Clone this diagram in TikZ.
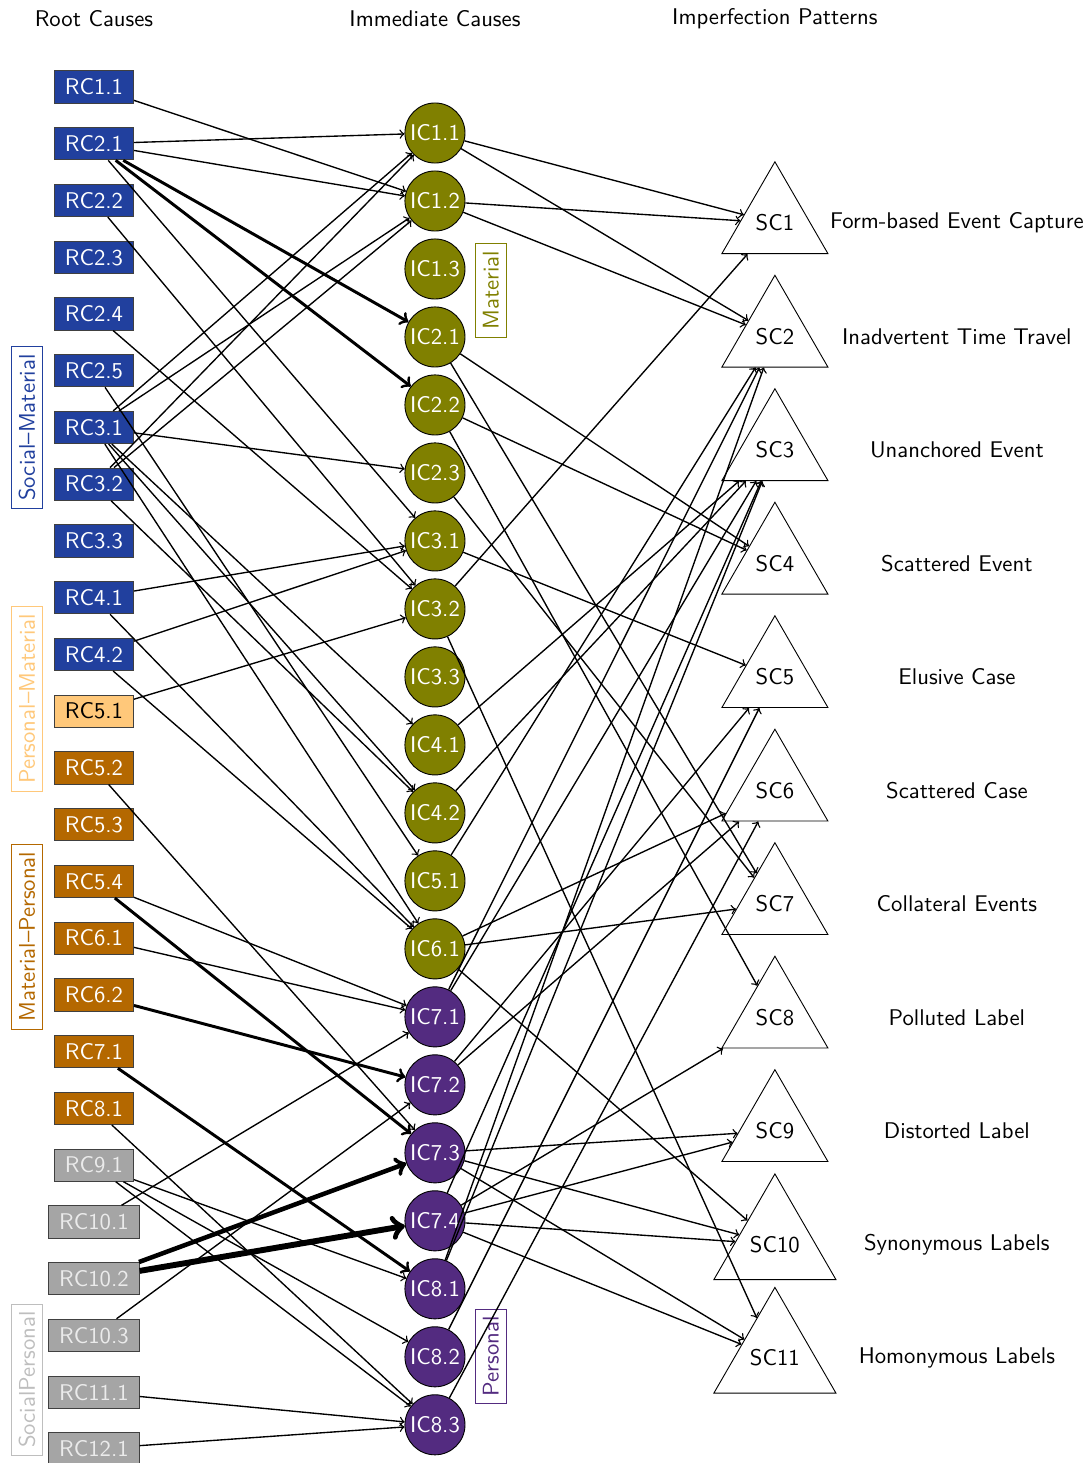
\documentclass[tikz,border=0pt]{standalone}
\usepackage{tikz}
\usetikzlibrary{positioning,shapes.geometric}

\definecolor{socblue}{RGB}{33,64,158}
\definecolor{perslight}{RGB}{255,200,122}
\definecolor{matbrown}{RGB}{180,104,0}
\definecolor{socgrey}{RGB}{165,165,165}
\definecolor{grouplight}{RGB}{190,190,190}
\definecolor{matolive}{RGB}{128,128,0}
\definecolor{perspurple}{RGB}{83,43,128}

\tikzset{
  root/.style={rectangle, draw=black!75, inner xsep=4.6pt, minimum height=0.5cm, text=white},
  rootsm/.style={root, fill=socblue},
  rootpm/.style={root, fill=perslight, text=black},
  rootmp/.style={root, fill=matbrown},
  rootsp/.style={root, fill=socgrey, text=white!92!black},
  immed/.style={circle, draw=black, inner sep=1pt, minimum size=0.93cm, text=white},
  immat/.style={immed, fill=matolive},
  imper/.style={immed, fill=perspurple},
  patnode/.style={regular polygon, regular polygon sides=3, draw, inner sep=0pt, minimum size=1.895cm},
  grouplbl/.style={draw, rotate=90},
  link/.style={->, semithick},
}

\begin{document}
\begin{tikzpicture}[font=\sffamily, node distance=0.8785cm, on grid]

  \useasboundingbox (0,0) rectangle (16.84,-22.65);

  % Root causes
  \node[rootsm]                  (rc11) at (1.455,-1.347) {RC1.1};
  \node[rootsm, below=of rc11]   (rc21)  {RC2.1};
  \node[rootsm, below=of rc21]   (rc22)  {RC2.2};
  \node[rootsm, below=of rc22]   (rc23)  {RC2.3};
  \node[rootsm, below=of rc23]   (rc24)  {RC2.4};
  \node[rootsm, below=of rc24]   (rc25)  {RC2.5};
  \node[rootsm, below=of rc25]   (rc31)  {RC3.1};
  \node[rootsm, below=of rc31]   (rc32)  {RC3.2};
  \node[rootsm, below=of rc32]   (rc33)  {RC3.3};
  \node[rootsm, below=of rc33]   (rc41)  {RC4.1};
  \node[rootsm, below=of rc41]   (rc42)  {RC4.2};
  \node[rootpm, below=of rc42]   (rc51)  {RC5.1};
  \node[rootmp, below=of rc51]   (rc52)  {RC5.2};
  \node[rootmp, below=of rc52]   (rc53)  {RC5.3};
  \node[rootmp, below=of rc53]   (rc54)  {RC5.4};
  \node[rootmp, below=of rc54]   (rc61)  {RC6.1};
  \node[rootmp, below=of rc61]   (rc62)  {RC6.2};
  \node[rootmp, below=of rc62]   (rc71)  {RC7.1};
  \node[rootmp, below=of rc71]   (rc81)  {RC8.1};
  \node[rootsp, below=of rc81]   (rc91)  {RC9.1};
  \node[rootsp, below=of rc91]   (rc101) {RC10.1};
  \node[rootsp, below=of rc101]  (rc102) {RC10.2};
  \node[rootsp, below=of rc102]  (rc103) {RC10.3};
  \node[rootsp, below=of rc103]  (rc111) {RC11.1};
  \node[rootsp, below=of rc111]  (rc121) {RC12.1};

  % Immediate causes
  \node[immat, below right=0.712cm and 5.279cm of rc11] (ic11) {IC1.1};
  \node[immat, below=1.0526cm of ic11] (ic12) {IC1.2};
  \node[immat, below=1.0526cm of ic12] (ic13) {IC1.3};
  \node[immat, below=1.0526cm of ic13] (ic21) {IC2.1};
  \node[immat, below=1.0526cm of ic21] (ic22) {IC2.2};
  \node[immat, below=1.0526cm of ic22] (ic23) {IC2.3};
  \node[immat, below=1.0526cm of ic23] (ic31) {IC3.1};
  \node[immat, below=1.0526cm of ic31] (ic32) {IC3.2};
  \node[immat, below=1.0526cm of ic32] (ic33) {IC3.3};
  \node[immat, below=1.0526cm of ic33] (ic41) {IC4.1};
  \node[immat, below=1.0526cm of ic41] (ic42) {IC4.2};
  \node[immat, below=1.0526cm of ic42] (ic51) {IC5.1};
  \node[immat, below=1.0526cm of ic51] (ic61) {IC6.1};
  \node[imper, below=1.0526cm of ic61] (ic71) {IC7.1};
  \node[imper, below=1.0526cm of ic71] (ic72) {IC7.2};
  \node[imper, below=1.0526cm of ic72] (ic73) {IC7.3};
  \node[imper, below=1.0526cm of ic73] (ic74) {IC7.4};
  \node[imper, below=1.0526cm of ic74] (ic81) {IC8.1};
  \node[imper, below=1.0526cm of ic81] (ic82) {IC8.2};
  \node[imper, below=1.0526cm of ic82] (ic83) {IC8.3};

  % Imperfection patterns
  \node[patnode, below right=1.393cm and 5.263cm of ic11] (sc1) {SC1};
  \node[patnode, below=1.757cm of sc1]  (sc2)  {SC2};
  \node[patnode, below=1.757cm of sc2]  (sc3)  {SC3};
  \node[patnode, below=1.757cm of sc3]  (sc4)  {SC4};
  \node[patnode, below=1.757cm of sc4]  (sc5)  {SC5};
  \node[patnode, below=1.757cm of sc5]  (sc6)  {SC6};
  \node[patnode, below=1.757cm of sc6]  (sc7)  {SC7};
  \node[patnode, below=1.757cm of sc7]  (sc8)  {SC8};
  \node[patnode, below=1.757cm of sc8]  (sc9)  {SC9};
  \node[patnode, below=1.757cm of sc9]  (sc10) {SC10};
  \node[patnode, below=1.757cm of sc10] (sc11) {SC11};

  \node[right=2.817cm of sc1]  (lbl1)  {Form-based Event Capture};
  \node[right=2.817cm of sc2]  (lbl2)  {Inadvertent Time Travel};
  \node[right=2.817cm of sc3]  (lbl3)  {Unanchored Event};
  \node[right=2.817cm of sc4]  (lbl4)  {Scattered Event};
  \node[right=2.817cm of sc5]  (lbl5)  {Elusive Case};
  \node[right=2.817cm of sc6]  (lbl6)  {Scattered Case};
  \node[right=2.817cm of sc7]  (lbl7)  {Collateral Events};
  \node[right=2.817cm of sc8]  (lbl8)  {Polluted Label};
  \node[right=2.817cm of sc9]  (lbl9)  {Distorted Label};
  \node[right=2.817cm of sc10] (lbl10) {Synonymous Labels};
  \node[right=2.817cm of sc11] (lbl11) {Homonymous Labels};

  % Headings
  \node[above=1.053cm of rc11] (hroot) {Root Causes};
  \node[above=1.765cm of ic11] (himm)  {Immediate Causes};
  \node[above=3.16cm of sc1]   (himp)  {Imperfection Patterns};

  % Groups
  \node[grouplbl, draw=socblue, text=socblue]       (gsm) at (0.418,-6.618)  {Social--Material};
  \node[grouplbl, draw=perslight, text=perslight]   (gpm) at (0.418,-10.82)  {Personal--Material};
  \node[grouplbl, draw=matbrown, text=matbrown]     (gmp) at (0.418,-14.50)  {Material--Personal};
  \node[grouplbl, draw=grouplight, text=grouplight] (gsp) at (0.418,-21.36)  {SocialPersonal};
  \node[grouplbl, draw=matolive, text=matolive]     (gma) at (7.60,-4.497)   {Material};
  \node[grouplbl, draw=perspurple, text=perspurple] (gpe) at (7.60,-21.0)    {Personal};

  % Root causes -> immediate causes
  \draw[link] (rc11) edge (ic12);
  \draw[link] (rc21) edge (ic11) edge (ic12) edge (ic31)
              edge[line width=1.3pt] (ic21) edge[line width=1.3pt] (ic22);
  \draw[link] (rc22) edge (ic32);
  \draw[link] (rc24) edge (ic32);
  \draw[link] (rc25) edge (ic51);
  \draw[link] (rc31) edge (ic11) edge (ic12) edge (ic23) edge (ic41) edge (ic42) edge (ic61);
  \draw[link] (rc32) edge (ic11) edge (ic12) edge (ic42);
  \draw[link] (rc41) edge (ic31) edge (ic61);
  \draw[link] (rc42) edge (ic31) edge (ic61);
  \draw[link] (rc51) edge (ic32);
  \draw[link] (rc52) edge (ic73);
  \draw[link] (rc54) edge (ic71) edge[line width=1.3pt] (ic73);
  \draw[link] (rc61) edge (ic71);
  \draw[link] (rc62) edge[line width=1.3pt] (ic72);
  \draw[link] (rc71) edge[line width=1.3pt] (ic81);
  \draw[link] (rc81) edge (ic83);
  \draw[link] (rc91) edge (ic81) edge (ic82) edge (ic83);
  \draw[link] (rc101) edge (ic71);
  \draw[link] (rc102) edge[line width=2pt] (ic73) edge[line width=2.6pt] (ic74);
  \draw[link] (rc103) edge (ic72);
  \draw[link] (rc111) edge (ic83);
  \draw[link] (rc121) edge (ic83);

  % Immediate causes -> imperfection patterns
  \draw[link] (ic11) edge (sc1) edge (sc2);
  \draw[link] (ic12) edge (sc1) edge (sc2);
  \draw[link] (ic21) edge (sc4) edge (sc7);
  \draw[link] (ic22) edge (sc4) edge (sc8);
  \draw[link] (ic23) edge (sc7);
  \draw[link] (ic31) edge (sc5);
  \draw[link] (ic32) edge (sc1) edge (sc11);
  \draw[link] (ic41) edge (sc3);
  \draw[link] (ic42) edge (sc3);
  \draw[link] (ic51) edge (sc2);
  \draw[link] (ic61) edge (sc6) edge (sc7) edge (sc10);
  \draw[link] (ic71) edge (sc2) edge (sc3);
  \draw[link] (ic72) edge (sc5) edge (sc6);
  \draw[link] (ic73) edge (sc9) edge (sc10) edge (sc11);
  \draw[link] (ic74) edge (sc3) edge (sc8) edge (sc9) edge (sc10) edge (sc11);
  \draw[link] (ic81) edge (sc2) edge (sc3);
  \draw[link] (ic82) edge (sc5);
  \draw[link] (ic83) edge (sc6);

\end{tikzpicture}
\end{document}
